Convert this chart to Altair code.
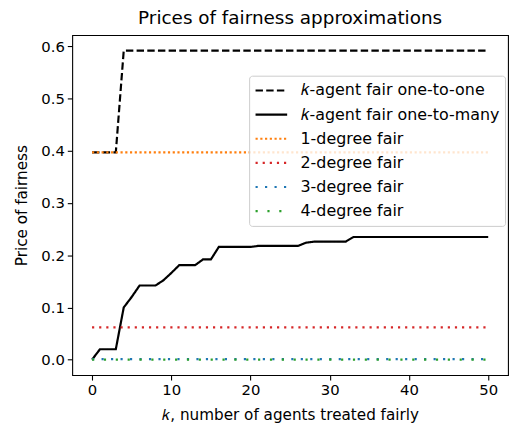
import altair as alt
import pandas as pd

# ---- data ----
k_steps = list(range(51))
one_to_one = [0.397, 0.397, 0.397, 0.397, 0.592, 0.592, 0.592, 0.592, 0.592, 0.592,
              0.592, 0.592, 0.592, 0.592, 0.592, 0.592, 0.592, 0.592, 0.592, 0.592,
              0.592, 0.592, 0.592, 0.592, 0.592, 0.592, 0.592, 0.592, 0.592, 0.592,
              0.592, 0.592, 0.592, 0.592, 0.592, 0.592, 0.592, 0.592, 0.592, 0.592,
              0.592, 0.592, 0.592, 0.592, 0.592, 0.592, 0.592, 0.592, 0.592, 0.592,
              0.592]
one_to_many = [0.0, 0.02, 0.02, 0.02, 0.1, 0.12, 0.142, 0.142, 0.142, 0.152,
               0.166, 0.181, 0.181, 0.181, 0.192, 0.192, 0.216, 0.216, 0.216, 0.216,
               0.216, 0.218, 0.218, 0.218, 0.218, 0.218, 0.218, 0.224, 0.226, 0.226,
               0.226, 0.226, 0.226, 0.235, 0.235, 0.235, 0.235, 0.235, 0.235, 0.235,
               0.235, 0.235, 0.235, 0.235, 0.235, 0.235, 0.235, 0.235, 0.235, 0.235,
               0.235]
k_ends = [0, 50]
deg1 = [0.397, 0.397]
deg2 = [0.062, 0.062]
deg3 = [0.001, 0.001]
deg4 = [0.0, 0.0]

series_names = ["𝑘-agent fair one-to-one", "𝑘-agent fair one-to-many",
                "1-degree fair", "2-degree fair", "3-degree fair", "4-degree fair"]
series_colors = ["#000000", "#000000", "#ff7f0e", "#d62728", "#1f77b4", "#2ca02c"]
series_dashes = [[7.5, 3.3], [1, 0], [2.2, 2.6], [2.2, 5.0], [2.2, 7.4], [2.2, 9.8]]

x_ticks = [0, 10, 20, 30, 40, 50]
y_ticks = [0.0, 0.1, 0.2, 0.3, 0.4, 0.5, 0.6]

rows = []
for kk, v in zip(k_steps, one_to_one):
    rows.append({"k": kk, "value": v, "series": series_names[0]})
for kk, v in zip(k_steps, one_to_many):
    rows.append({"k": kk, "value": v, "series": series_names[1]})
for name, vals in zip(series_names[2:], [deg1, deg2, deg3, deg4]):
    for kk, v in zip(k_ends, vals):
        rows.append({"k": kk, "value": v, "series": name})
df = pd.DataFrame(rows)

FONT = "DejaVu Sans"

legend = alt.Legend(
    title=None, orient="none", legendX=179, legendY=41,
    symbolType="stroke", symbolSize=1024, symbolStrokeWidth=2.2,
    clipHeight=20, rowPadding=4.4, labelOffset=12,
    labelFontSize=16.1, labelFont=FONT, labelColor="#000000", labelLimit=400,
    padding=5, fillColor="rgba(255,255,255,0.8)", strokeColor="#cccccc",
    cornerRadius=3,
)

chart = alt.Chart(df).mark_line(strokeWidth=2.2, clip=True).encode(
    x=alt.X("k:Q",
            scale=alt.Scale(domain=[-2.5, 52.5], nice=False, zero=False),
            axis=alt.Axis(values=x_ticks, title="𝑘, number of agents treated fairly")),
    y=alt.Y("value:Q",
            scale=alt.Scale(domain=[-0.0296, 0.6216], nice=False, zero=False),
            axis=alt.Axis(values=y_ticks, format=".1f", title="Price of fairness")),
    color=alt.Color("series:N", scale=alt.Scale(domain=series_names, range=series_colors),
                    legend=legend),
    strokeDash=alt.StrokeDash("series:N", scale=alt.Scale(domain=series_names, range=series_dashes),
                              legend=legend),
).properties(
    width=441, height=344,
    title=alt.TitleParams("Prices of fairness approximations", font=FONT, fontSize=18.6,
                          fontWeight="normal", color="#000000", offset=8),
    autosize=alt.AutoSizeParams(type="none"),
    padding={"left": 65, "top": 25, "right": 2, "bottom": 50},
).configure_view(
    stroke="#000000", strokeWidth=1.1
).configure_axis(
    domain=False, grid=False, ticks=True, tickColor="#000000", tickSize=5, tickWidth=1.1,
    labelFont=FONT, labelFontSize=15, labelColor="#000000", labelPadding=3,
    titleFont=FONT, titleFontSize=15.4, titleFontWeight="normal", titleColor="#000000",
).configure_axisX(titlePadding=10).configure_axisY(titlePadding=11)

chart.save("out.html", embed_options={"renderer": "svg", "actions": False})
